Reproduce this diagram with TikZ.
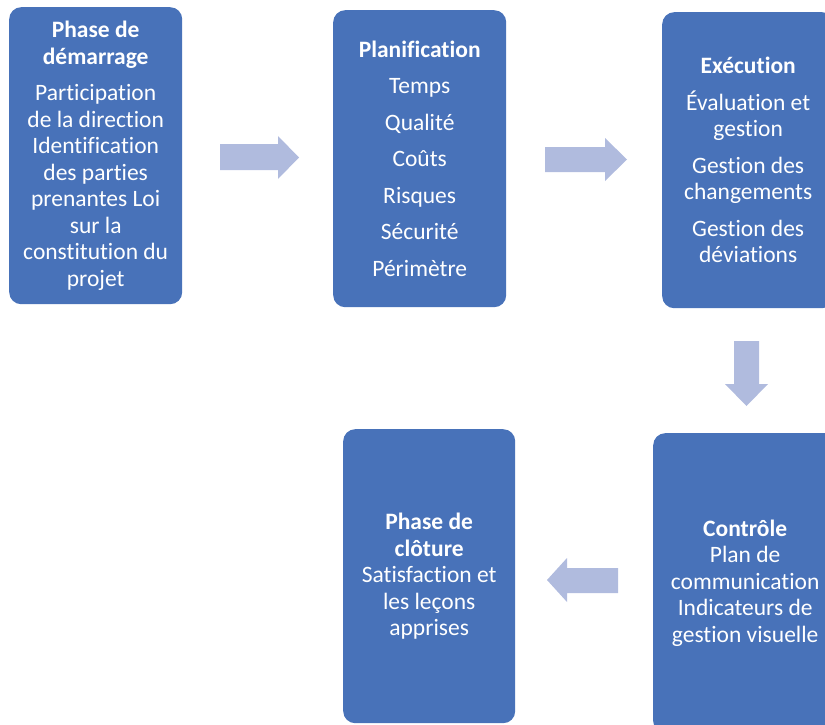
\documentclass[tikz,border=0pt]{standalone}
\usepackage{fontspec}
\setmainfont[Ligatures={NoCommon}]{Carlito}
\definecolor{boxblue}{HTML}{4872B9}
\definecolor{arrowblue}{HTML}{B0BBDE}
\begin{document}
\begin{tikzpicture}[x=1pt,y=-1pt,
  phase/.style={fill=boxblue, rounded corners=12pt, text=white, align=center,
    font=\fontsize{23.5}{26.5}\selectfont, inner sep=0pt, anchor=north west},
  blockarrow/.style={fill=arrowblue}]
\useasboundingbox (0,0) rectangle (825,725);
\clip (0,0) rectangle (825,725);

% Phase boxes
\node[phase, minimum width=173pt, minimum height=297pt] (start) at (9,7)
  {\textbf{Phase de}\\\textbf{démarrage}\\[10pt]
   Participation\\de la direction\\Identification\\des parties\\prenantes Loi\\sur la\\constitution du\\projet};
\node[phase, minimum width=173pt, minimum height=297pt] (plan) at (333,10)
  {\textbf{Planification}\\[10pt]Temps\\[10pt]Qualité\\[10pt]Coûts\\[10pt]Risques\\[10pt]Sécurité\\[10pt]Périmètre};
\node[phase, minimum width=172pt, minimum height=296pt] (exec) at (662,12)
  {\textbf{Exécution}\\[10pt]Évaluation et\\gestion\\[10pt]Gestion des\\changements\\[10pt]Gestion des\\déviations};
\node[phase, minimum width=184pt, minimum height=300pt] (ctrl) at (653,433)
  {\textbf{Contrôle}\\Plan de\\communication\\Indicateurs de\\gestion visuelle};
\node[phase, minimum width=172pt, minimum height=294pt] (close) at (343,429)
  {\textbf{Phase de}\\\textbf{clôture}\\Satisfaction et\\les leçons\\apprises};

% Block arrows between the phases
\fill[blockarrow] (220,144) -- (278,144) -- (278,136) -- (299,157.5) -- (278,179)
  -- (278,170) -- (220,170) -- cycle;
\fill[blockarrow] (545,147) -- (605,147) -- (605,138) -- (627,159.5) -- (605,181)
  -- (605,172) -- (545,172) -- cycle;
\fill[blockarrow] (734,341) -- (759,341) -- (759,384) -- (768,384) -- (746.5,406)
  -- (725,384) -- (734,384) -- cycle;
\fill[blockarrow] (618,568) -- (567,568) -- (567,558) -- (547,580) -- (567,602)
  -- (567,593) -- (618,593) -- cycle;
\end{tikzpicture}
\end{document}
